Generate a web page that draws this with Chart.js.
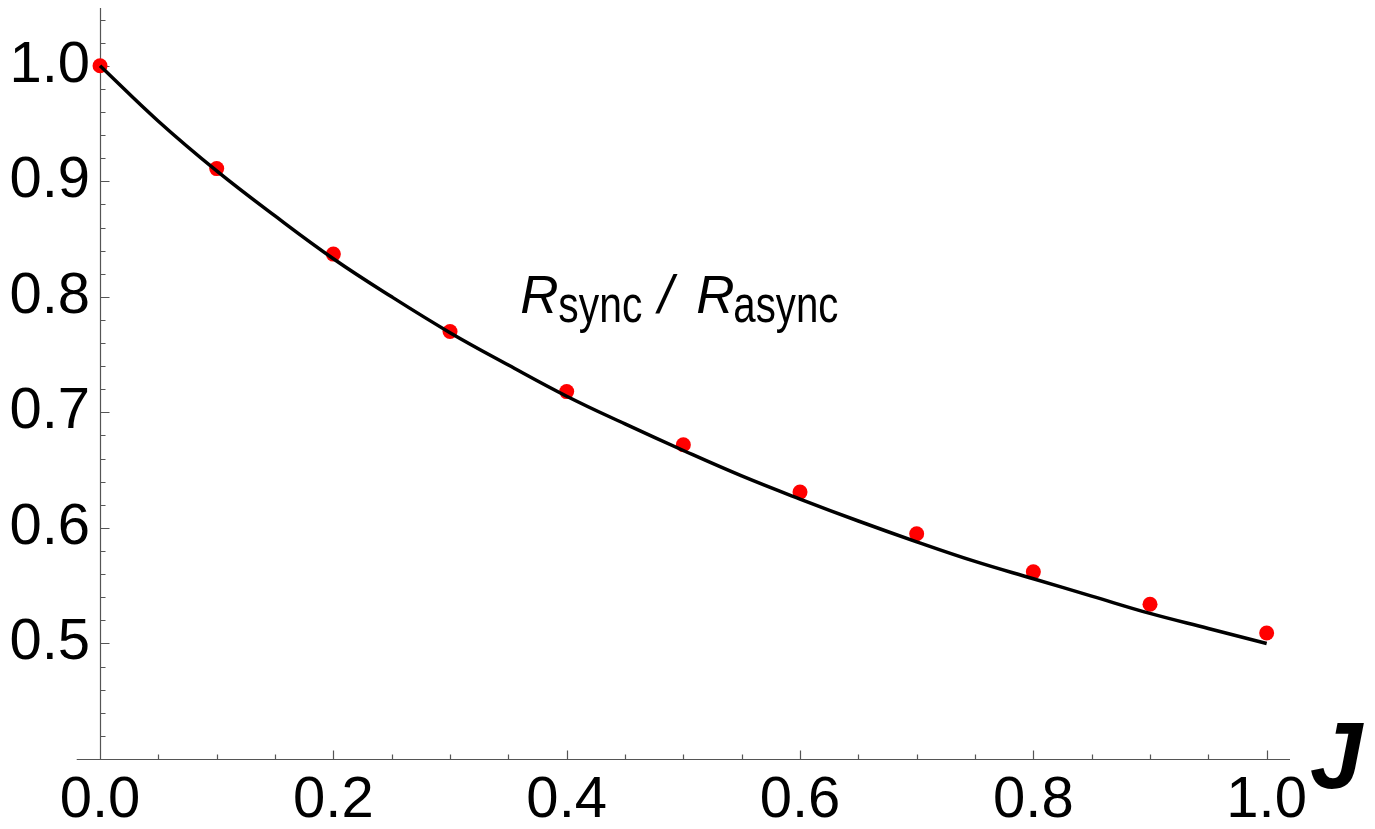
<!DOCTYPE html>
<html>
<head>
<meta charset="utf-8">
<script src="https://cdn.jsdelivr.net/npm/chart.js@4.4.1/dist/chart.umd.min.js"></script>
<style>
  html, body { margin: 0; padding: 0; background: #fff; }
  canvas { display: block; }
</style>
</head>
<body>
<canvas id="chart" width="1375" height="829"></canvas>
<script>
// curve R_sync / R_async
const curveJ = [0, 0.05, 0.1, 0.15, 0.2, 0.25, 0.3, 0.35, 0.4, 0.45, 0.5,
                0.55, 0.6, 0.65, 0.7, 0.75, 0.8, 0.85, 0.9, 0.95, 1.0];
const curveR = [1.0, 0.952, 0.909, 0.870, 0.833, 0.800, 0.769, 0.741, 0.714, 0.690, 0.667,
                0.645, 0.625, 0.606, 0.588, 0.571, 0.556, 0.541, 0.526, 0.513, 0.500];

// red simulation points
const pointJ = [0, 0.1, 0.2, 0.3, 0.4, 0.5, 0.6, 0.7, 0.8, 0.9, 1.0];
const pointR = [1.0, 0.911, 0.837, 0.770, 0.718, 0.672, 0.631, 0.595, 0.562, 0.534, 0.509];

const xTicks = [0, 0.2, 0.4, 0.6, 0.8, 1.0];
const yTicks = [0.5, 0.6, 0.7, 0.8, 0.9, 1.0];
const xMinorStep = 0.05;
const yMinorStep = 0.02;

const FONT = '"Liberation Sans", Arial, Helvetica, sans-serif';
const AXIS_COLOR = '#555';

function toXY(xs, ys) {
    return xs.map((x, i) => ({ x: x, y: ys[i] }));
}

function noPadding(s) {
    s.paddingTop = 0;
    s.paddingBottom = 0;
    s.paddingLeft = 0;
    s.paddingRight = 0;
}

// axes drawn through the origin with inward ticks (Mathematica style)
const mathAxes = {
    id: 'mathAxes',
    beforeDatasetsDraw(chart) {
        const ctx = chart.ctx;
        const xs = chart.scales.x, ys = chart.scales.y;
        const area = chart.chartArea;
        const x0 = Math.round(xs.getPixelForValue(0)) + 0.5;
        const y0 = Math.round(area.bottom) + 0.5;
        ctx.save();
        ctx.strokeStyle = AXIS_COLOR;
        ctx.lineWidth = 1.2;
        ctx.beginPath();
        ctx.moveTo(area.left, y0);
        ctx.lineTo(area.right, y0);
        ctx.moveTo(x0, y0);
        ctx.lineTo(x0, area.top);
        // x ticks
        for (let v = 0; v <= xs.max + 1e-9; v += xMinorStep) {
            const major = xTicks.some(t => Math.abs(t - v) < 1e-6);
            const px = Math.round(xs.getPixelForValue(v)) + 0.5;
            ctx.moveTo(px, y0);
            ctx.lineTo(px, y0 - (major ? 9 : 5));
        }
        // y ticks
        for (let v = 0.4; v <= ys.max + 1e-9; v += yMinorStep) {
            const major = yTicks.some(t => Math.abs(t - v) < 1e-6);
            const py = Math.round(ys.getPixelForValue(v)) + 0.5;
            ctx.moveTo(x0, py);
            ctx.lineTo(x0 + (major ? 9 : 5), py);
        }
        ctx.stroke();
        ctx.restore();
    },
    afterDraw(chart) {
        const ctx = chart.ctx;
        const xs = chart.scales.x, ys = chart.scales.y;
        const area = chart.chartArea;
        ctx.save();
        ctx.fillStyle = '#000';
        ctx.textBaseline = 'alphabetic';
        ctx.textAlign = 'left';

        // curve label
        const lx = xs.getPixelForValue(0.362);
        const ly = ys.getPixelForValue(0.786);
        ctx.font = 'italic 53px ' + FONT;
        ctx.fillText('R', lx - 2, ly);
        ctx.font = '52px ' + FONT;
        ctx.fillText('sync', lx + 36, ly + 9, 84);
        ctx.font = 'italic 53px ' + FONT;
        ctx.fillText('/', lx + 136, ly);
        ctx.fillText('R', lx + 174, ly);
        ctx.font = '52px ' + FONT;
        ctx.fillText('async', lx + 211, ly + 9, 105);

        // axis name
        ctx.font = 'italic bold 94px ' + FONT;
        ctx.fillText('J', area.right + 20, area.bottom + 29);
        ctx.restore();
    }
};

new Chart(document.getElementById('chart'), {
    type: 'scatter',
    data: {
        datasets: [
            {
                label: 'theory',
                data: toXY(curveJ, curveR),
                showLine: true,
                borderColor: '#000',
                borderWidth: 3.5,
                pointRadius: 0,
                fill: false,
                tension: 0.4,
                clip: false
            },
            {
                label: 'simulation',
                data: toXY(pointJ, pointR),
                backgroundColor: '#ff0000',
                borderWidth: 0,
                pointRadius: 7.5,
                clip: false
            }
        ]
    },
    options: {
        responsive: false,
        animation: false,
        devicePixelRatio: 1,
        layout: { padding: { top: 8, right: 85, left: 0, bottom: 0 } },
        plugins: {
            legend: { display: false },
            tooltip: { enabled: false }
        },
        scales: {
            x: {
                type: 'linear',
                position: 'bottom',
                min: -0.02,
                max: 1.02,
                grid: { display: false, drawTicks: false },
                border: { display: false },
                afterBuildTicks: s => { s.ticks = xTicks.map(v => ({ value: v })); },
                afterFit: s => { s.height = 70; noPadding(s); },
                ticks: {
                    maxRotation: 0,
                    autoSkip: false,
                    padding: 7,
                    color: '#000',
                    font: { family: FONT, size: 58 },
                    callback: v => v.toFixed(1)
                }
            },
            y: {
                type: 'linear',
                position: 'left',
                min: 0.40,
                max: 1.05,
                grid: { display: false, drawTicks: false },
                border: { display: false },
                afterBuildTicks: s => { s.ticks = yTicks.map(v => ({ value: v })); },
                afterFit: s => { s.width = 76.7; noPadding(s); },
                ticks: {
                    autoSkip: false,
                    mirror: true,
                    crossAlign: 'far',
                    padding: -67.3,
                    color: '#000',
                    font: { family: FONT, size: 58 },
                    callback: v => v.toFixed(1)
                }
            }
        }
    },
    plugins: [mathAxes]
});
</script>
</body>
</html>
